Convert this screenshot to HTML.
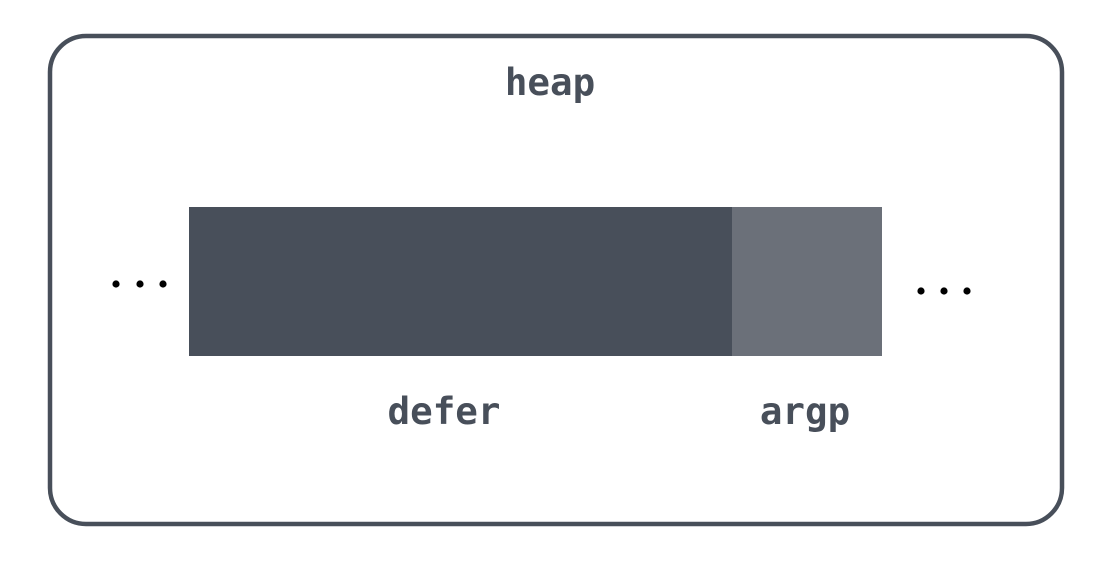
<!DOCTYPE html>
<html><head><style>
body{margin:0;width:1110px;height:561px;background:#fff;overflow:hidden}
</style></head><body>
<svg width="1110" height="561" xmlns="http://www.w3.org/2000/svg">
<rect x="50" y="36" width="1012" height="488" rx="36" fill="none" stroke="#484f5a" stroke-width="4.5"/>
<rect x="189" y="207" width="543" height="149" fill="#484f5a"/>
<rect x="732" y="207" width="150" height="149" fill="#6b7079"/>
<g font-family="'DejaVu Sans Mono','Liberation Mono',monospace" font-weight="bold" font-size="37.5" fill="#484f5a" text-anchor="middle">
<text x="550" y="95">heap</text>
<text x="444" y="424">defer</text>
<text x="805" y="424">argp</text>
</g>
<g fill="#000">
<circle cx="116" cy="284" r="3.6"/><circle cx="140" cy="284" r="3.6"/><circle cx="163" cy="284" r="3.6"/>
<circle cx="921" cy="291" r="3.6"/><circle cx="944" cy="291" r="3.6"/><circle cx="967" cy="291" r="3.6"/>
</g>
</svg>
</body></html>
